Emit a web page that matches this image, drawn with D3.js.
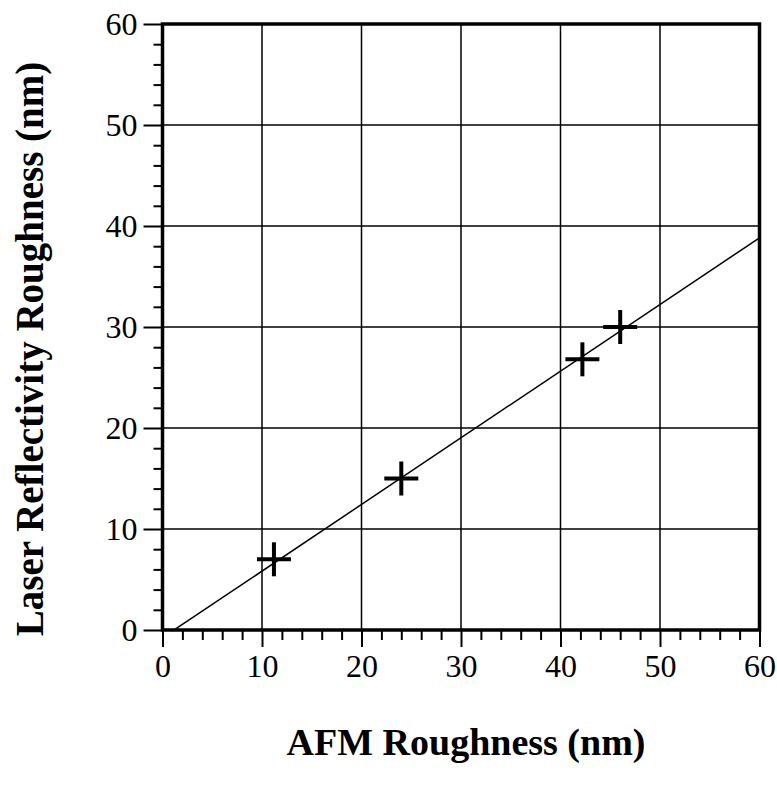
<!DOCTYPE html>
<html>
<head>
<meta charset="utf-8">
<script src="https://cdn.jsdelivr.net/npm/d3@7"></script>
<style>
  body { margin: 0; background: #fff; }
  svg text { font-family: "Liberation Serif", "DejaVu Serif", serif; fill: #000; }
</style>
</head>
<body>
<svg id="js-svg" width="777" height="785"></svg>
<script>
// measured points
const afmRoughness = [11.2, 24, 42.2, 46];
const laserRoughness = [7, 15, 26.8, 30];

// fitted line (y = slope * x + intercept), drawn over the x range
const fitSlope = 0.66;
const fitIntercept = -0.77;
const fitRange = [1.17, 60];

const xTicks = [0, 10, 20, 30, 40, 50, 60];
const yTicks = [0, 10, 20, 30, 40, 50, 60];
const minorTicks = d3.range(0, 61, 2);

const xTitle = "AFM Roughness (nm)";
const yTitle = "Laser Reflectivity Roughness (nm)";

const margin = { left: 162.5, top: 24, right: 17.5, bottom: 155 };
const width = 777, height = 785;

const svg = d3.select("#js-svg");

const xscale = d3.scaleLinear().domain([0, 60]).range([margin.left, width - margin.right]);
const yscale = d3.scaleLinear().domain([0, 60]).range([height - margin.bottom, margin.top]);

// grid
svg.append("g")
  .selectAll("line")
  .data(xTicks.slice(1, -1))
  .join("line")
  .attr("x1", (d) => xscale(d)).attr("x2", (d) => xscale(d))
  .attr("y1", yscale(0)).attr("y2", yscale(60))
  .attr("stroke", "#000").attr("stroke-width", 1.5);

svg.append("g")
  .selectAll("line")
  .data(yTicks.slice(1, -1))
  .join("line")
  .attr("y1", (d) => yscale(d)).attr("y2", (d) => yscale(d))
  .attr("x1", xscale(0)).attr("x2", xscale(60))
  .attr("stroke", "#000").attr("stroke-width", 1.5);

const styleAxis = (g) => {
  g.select(".domain").remove();
  g.selectAll(".tick line").attr("stroke", "#000").attr("stroke-width", 2);
  g.selectAll(".tick text")
    .style("font-family", "'Liberation Serif', serif")
    .style("font-size", "32px")
    .attr("fill", "#000");
};

// minor ticks
const xMinor = d3.axisBottom(xscale).tickValues(minorTicks.filter((d) => d % 10)).tickSize(10).tickFormat("");
const yMinor = d3.axisLeft(yscale).tickValues(minorTicks.filter((d) => d % 10)).tickSize(9).tickFormat("");

svg.append("g")
  .attr("transform", `translate(0,${yscale(0)})`)
  .call(xMinor)
  .call(styleAxis);

svg.append("g")
  .attr("transform", `translate(${xscale(0)},0)`)
  .call(yMinor)
  .call(styleAxis);

// major ticks + labels
const xMajor = d3.axisBottom(xscale).tickValues(xTicks).tickSize(17).tickPadding(7);
const yMajor = d3.axisLeft(yscale).tickValues(yTicks).tickSize(19).tickPadding(6);

svg.append("g")
  .attr("transform", `translate(0,${yscale(0)})`)
  .call(xMajor)
  .call(styleAxis);

svg.append("g")
  .attr("transform", `translate(${xscale(0)},0)`)
  .call(yMajor)
  .call(styleAxis);

// frame
svg.append("rect")
  .attr("x", xscale(0)).attr("y", yscale(60))
  .attr("width", xscale(60) - xscale(0))
  .attr("height", yscale(0) - yscale(60))
  .attr("fill", "none")
  .attr("stroke", "#000")
  .attr("stroke-width", 3.5);

// fit line
const line = d3.line()
  .x((d) => xscale(d))
  .y((d) => yscale(fitSlope * d + fitIntercept));

svg.append("path")
  .datum(fitRange)
  .attr("d", line)
  .attr("fill", "none")
  .attr("stroke", "#000")
  .attr("stroke-width", 1.5);

// cross markers
const pts = afmRoughness.map((x, i) => ({ x, y: laserRoughness[i] }));
const arm = 17;
const marks = svg.append("g")
  .selectAll("g")
  .data(pts)
  .join("g")
  .attr("transform", (d) => `translate(${xscale(d.x)},${yscale(d.y)})`);

marks.append("line")
  .attr("x1", -arm).attr("x2", arm).attr("y1", 0).attr("y2", 0)
  .attr("stroke", "#000").attr("stroke-width", 4);
marks.append("line")
  .attr("y1", -arm).attr("y2", arm).attr("x1", 0).attr("x2", 0)
  .attr("stroke", "#000").attr("stroke-width", 4);

// titles
svg.append("text")
  .attr("x", 466)
  .attr("y", 755)
  .attr("text-anchor", "middle")
  .attr("font-weight", "bold")
  .attr("font-size", 38)
  .text(xTitle);

svg.append("text")
  .attr("transform", "translate(43,349) rotate(-90)")
  .attr("text-anchor", "middle")
  .attr("font-weight", "bold")
  .attr("font-size", 39)
  .text(yTitle);
</script>
</body>
</html>
